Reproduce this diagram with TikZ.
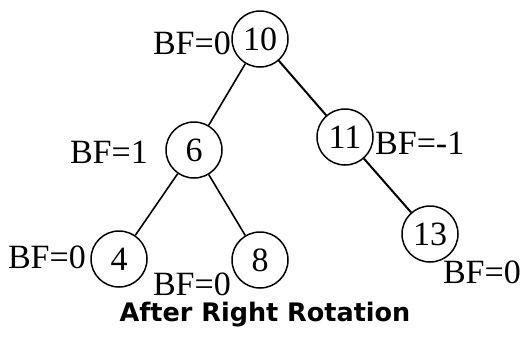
\documentclass[tikz,border=0pt]{standalone}
\usepackage{fontspec}
\setmainfont{Liberation Serif}
\newfontfamily\titlefont{DejaVu Sans}
\begin{document}
\begin{tikzpicture}[x=1pt,y=-1pt,
  treenode/.style={circle,draw,line width=1.5pt,minimum size=56pt,inner sep=0pt,font=\fontsize{34}{36}\selectfont},
  bflabel/.style={inner sep=0pt,font=\fontsize{34}{36}\selectfont},
  edge/.style={line width=1.6pt}]
\useasboundingbox (0,0) rectangle (530,343);
\node[treenode] (n10) at (260,39) {10};
\node[treenode] (n6) at (194,150) {6};
\node[treenode] (n11) at (345,137) {11};
\node[treenode] (n4) at (119,259) {4};
\node[treenode] (n8) at (260,260) {8};
\node[treenode] (n13) at (430,234) {13};
\draw[edge] (n10) -- (n6);
\draw[edge,line width=2pt] (n10) -- (n11);
\draw[edge] (n6) -- (n4);
\draw[edge] (n6) -- (n8);
\draw[edge,line width=2pt] (n11) -- (n13);
\node[bflabel,anchor=east] (b10) at (231,43) {BF=0};
\node[bflabel,anchor=east] (b6) at (148,152) {BF=1};
\node[bflabel,anchor=west] (b11) at (375,143) {BF=-1};
\node[bflabel,anchor=east] (b4) at (86,257) {BF=0};
\node[bflabel,anchor=east] (b8) at (231,284) {BF=0};
\node[bflabel,anchor=east] (b13) at (521,272) {BF=0};
\node[inner sep=0pt,font=\titlefont\bfseries\fontsize{25.5}{27}\selectfont] (title) at (265,315) {After Right Rotation};
\end{tikzpicture}
\end{document}
